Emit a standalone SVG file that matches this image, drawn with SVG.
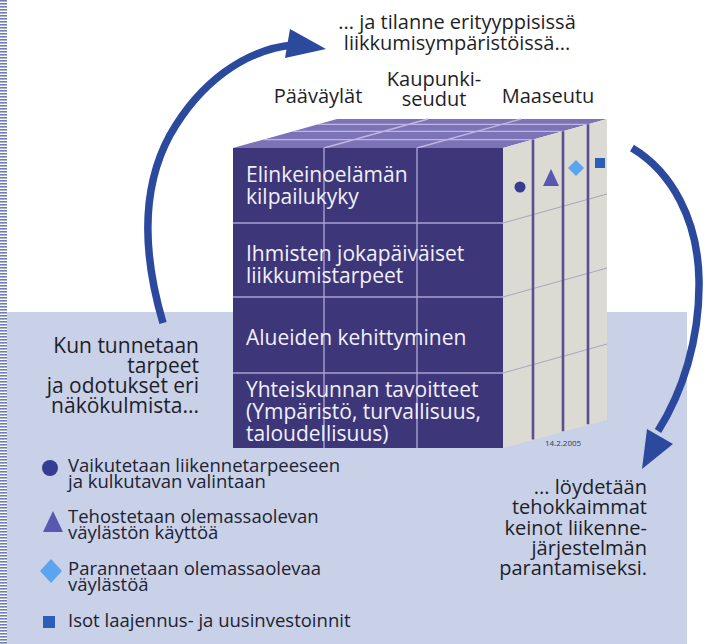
<svg xmlns="http://www.w3.org/2000/svg" width="708" height="644" viewBox="0 0 708 644">
<defs>
<pattern id="hatch" width="8" height="3" patternUnits="userSpaceOnUse">
<rect x="0" y="0" width="8" height="1.6" fill="#6f7db4"/>
</pattern>
<style>
text{font-family:"Open Sans","Liberation Sans",sans-serif;fill:#1e1e28}
.lbl{font-size:20px}
.cell{font-size:21px;fill:#f2f0fa}
.leg{font-size:18.5px;fill:#1e2232}
.side{font-size:21px}
.rt{font-size:20px;text-anchor:end}
.grid{stroke:#a9a1d6;stroke-width:1.4;fill:none}
.topl{stroke:#c2b4e4;stroke-width:1.3;fill:none}
.rl{stroke:#a8a6bc;stroke-width:1;fill:none}
.vl{stroke:#5a4f92;stroke-width:2.6;fill:none}
.arrow{fill:none;stroke:#2b4a9e;stroke-width:7.5;stroke-linecap:butt}
.head{fill:#2b4a9e}
.c1{fill:#363c92}
.c2{fill:#5858b0}
.c3{fill:#5aa4f0}
.c4{fill:#2a5fb8}
</style>
</defs>
<rect width="708" height="644" fill="#ffffff"/>
<rect x="7" y="312" width="680" height="332" fill="#c8d1e8"/>
<rect x="0" y="0" width="7" height="644" fill="url(#hatch)"/>

<g id="cube">
<polygon points="233,148 503,148 607,119 337,119" fill="#7c73b6"/>
<line class="topl" x1="263" y1="139.6" x2="533" y2="139.6"/>
<line class="topl" x1="293" y1="131.3" x2="563" y2="131.3"/>
<line class="topl" x1="318" y1="124.3" x2="588" y2="124.3"/>
<line class="topl" x1="324" y1="148" x2="428" y2="119"/>
<line class="topl" x1="417" y1="148" x2="521" y2="119"/>
<polygon points="503,148 607,119 607,420 503,448" fill="#dbdad3"/>
<line class="rl" x1="503" y1="223" x2="607" y2="194"/>
<line class="rl" x1="503" y1="297" x2="607" y2="268"/>
<line class="rl" x1="503" y1="373" x2="607" y2="344"/>
<line class="vl" x1="533" y1="139.6" x2="533" y2="439.6"/>
<line class="vl" x1="563" y1="131.3" x2="563" y2="431.3"/>
<line class="vl" x1="588" y1="124.3" x2="588" y2="424.3"/>
<rect x="233" y="148" width="270" height="300" fill="#3d3779"/>
<line class="grid" x1="233" y1="223" x2="503" y2="223"/>
<line class="grid" x1="233" y1="297" x2="503" y2="297"/>
<line class="grid" x1="233" y1="373" x2="503" y2="373"/>
<line class="grid" x1="324" y1="148" x2="324" y2="448"/>
<line class="grid" x1="417" y1="148" x2="417" y2="448"/>
<circle class="c1" cx="520" cy="187" r="5.5"/>
<polygon class="c2" points="551,169 559,186 543,186"/>
<polygon class="c3" points="576,160 584,168 576,176 568,168"/>
<rect class="c4" x="595" y="158" width="10" height="10"/>
<text x="563" y="446" text-anchor="middle" style="font-size:8px;fill:#3a3a40">14.2.2005</text>
</g>

<g id="row1"><text class="cell" x="246" y="182">Elinkeinoelämän</text><text class="cell" x="246" y="204">kilpailukyky</text></g>
<g id="row2"><text class="cell" x="246" y="261">Ihmisten jokapäiväiset</text><text class="cell" x="246" y="283">liikkumistarpeet</text></g>
<g id="row3"><text class="cell" x="246" y="345">Alueiden kehittyminen</text></g>
<g id="row4"><text class="cell" x="246" y="397">Yhteiskunnan tavoitteet</text><text class="cell" x="246" y="419">(Ympäristö, turvallisuus,</text><text class="cell" x="246" y="441">taloudellisuus)</text></g>

<g id="col-labels">
<text class="lbl" x="318" y="103" text-anchor="middle">Pääväylät</text>
<text class="lbl" x="434" y="86" text-anchor="middle">Kaupunki-</text>
<text class="lbl" x="434" y="106" text-anchor="middle">seudut</text>
<text class="lbl" x="548" y="103" text-anchor="middle">Maaseutu</text>
</g>

<g id="top-text">
<text class="lbl" x="457" y="29" text-anchor="middle">... ja tilanne erityyppisissä</text>
<text class="lbl" x="457" y="50" text-anchor="middle">liikkumisympäristöissä...</text>
</g>

<g id="left-text">
<text class="side" x="199" y="353" text-anchor="end">Kun tunnetaan</text>
<text class="side" x="199" y="373" text-anchor="end">tarpeet</text>
<text class="side" x="199" y="393" text-anchor="end">ja odotukset eri</text>
<text class="side" x="199" y="413" text-anchor="end">näkökulmista...</text>
</g>

<g id="right-text">
<text class="rt" x="647" y="494">... löydetään</text>
<text class="rt" x="647" y="514">tehokkaimmat</text>
<text class="rt" x="647" y="535">keinot liikenne-</text>
<text class="rt" x="647" y="555">järjestelmän</text>
<text class="rt" x="647" y="575">parantamiseksi.</text>
</g>

<g id="legend-circle">
<circle class="c1" cx="50" cy="468" r="8"/>
<text class="leg" x="68" y="472">Vaikutetaan liikennetarpeeseen</text>
<text class="leg" x="68" y="488">ja kulkutavan valintaan</text>
</g>
<g id="legend-triangle">
<polygon class="c2" points="53,511 63,532 43,532"/>
<text class="leg" x="68" y="523">Tehostetaan olemassaolevan</text>
<text class="leg" x="68" y="539">väylästön käyttöä</text>
</g>
<g id="legend-diamond">
<polygon class="c3" points="51,559 62,571 51,583 40,571"/>
<text class="leg" x="68" y="575">Parannetaan olemassaolevaa</text>
<text class="leg" x="68" y="591">väylästöä</text>
</g>
<g id="legend-square">
<rect class="c4" x="43" y="616" width="12" height="12"/>
<text class="leg" x="68" y="627">Isot laajennus- ja uusinvestoinnit</text>
</g>

<g id="connectors">
<path class="arrow" d="M163,323 C143,255 140,190 170,135 C200,82 245,50 292,45"/>
<polygon class="head" points="290,29 326,49 285,58"/>
<path class="arrow" d="M632,148 C672,172 698,220 699,280 C700,340 682,393 658,431"/>
<polygon class="head" points="647,429 673,444 642,469"/>
</g>
</svg>
